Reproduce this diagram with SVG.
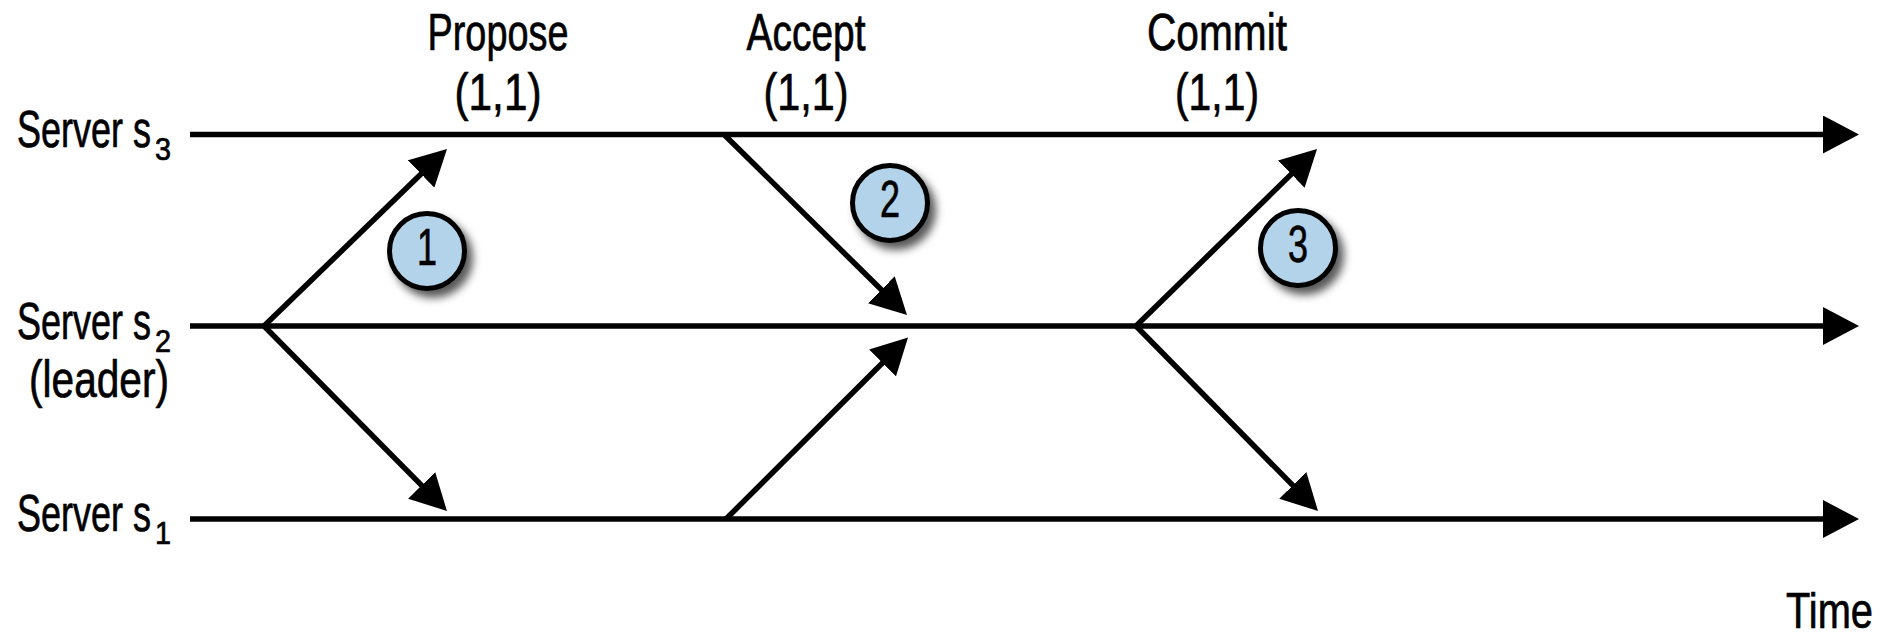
<svg xmlns="http://www.w3.org/2000/svg" width="1883" height="640" viewBox="0 0 1883 640">
  <style>
    text { font-family: "Liberation Sans", Arial, sans-serif; font-size: 52px; fill: #000; stroke: #000; stroke-width: 0.7; }
    .sub { font-size: 31px; }
    .mid { text-anchor: middle; }
    .end { text-anchor: end; }
    .timeline, .msg { stroke: #000; stroke-width: 5.5; fill: none; marker-end: url(#head); }
    .badge circle { fill: #b3d3ea; stroke: #000; stroke-width: 5; filter: url(#shadow); }
  </style>
  <defs>
    <marker id="head" viewBox="0 0 36 38" refX="20" refY="19" markerWidth="36" markerHeight="38" markerUnits="userSpaceOnUse" orient="auto">
      <path d="M0,0 L36,19 L0,38 Z" fill="#000"/>
    </marker>
    <filter id="shadow" x="-40%" y="-40%" width="190%" height="190%">
      <feDropShadow dx="6" dy="7" stdDeviation="4.5" flood-color="#000" flood-opacity="0.65"/>
    </filter>
  </defs>

  <rect width="1883" height="640" fill="#fff"/>

  <!-- server timelines and messages -->
  <g id="connectors">
    <line class="timeline" x1="190" y1="134.5" x2="1843" y2="134.5"/>
    <line class="timeline" x1="190" y1="326" x2="1843" y2="326"/>
    <line class="timeline" x1="190" y1="519" x2="1843" y2="519"/>

    <!-- phase 1: leader proposes -->
    <line class="msg" x1="264" y1="326" x2="435.5" y2="160.1"/>
    <line class="msg" x1="264" y1="326" x2="435.7" y2="499.6"/>
    <!-- phase 2: followers accept -->
    <line class="msg" x1="724" y1="134.5" x2="895.6" y2="303.8"/>
    <line class="msg" x1="726" y1="519" x2="896.7" y2="348.8"/>
    <!-- phase 3: leader commits -->
    <line class="msg" x1="1136" y1="326" x2="1305.6" y2="160.2"/>
    <line class="msg" x1="1136" y1="326" x2="1306.8" y2="499.6"/>
  </g>

  <!-- server labels -->
  <g id="server-s3">
    <text class="end" y="147"><tspan x="151" textLength="134" lengthAdjust="spacingAndGlyphs">Server s</tspan><tspan class="sub" x="171" dy="13" textLength="16" lengthAdjust="spacingAndGlyphs">3</tspan></text>
  </g>
  <g id="server-s2">
    <text class="end" y="339"><tspan x="151" textLength="134" lengthAdjust="spacingAndGlyphs">Server s</tspan><tspan class="sub" x="171" dy="13" textLength="16" lengthAdjust="spacingAndGlyphs">2</tspan></text>
    <text class="end" x="169" y="397" textLength="140" lengthAdjust="spacingAndGlyphs">(leader)</text>
  </g>
  <g id="server-s1">
    <text class="end" y="531"><tspan x="151" textLength="134" lengthAdjust="spacingAndGlyphs">Server s</tspan><tspan class="sub" x="171" dy="13" textLength="16" lengthAdjust="spacingAndGlyphs">1</tspan></text>
  </g>

  <!-- phase labels -->
  <g id="propose">
    <text class="mid" x="498" y="50" textLength="141" lengthAdjust="spacingAndGlyphs">Propose</text>
    <text class="mid" x="498" y="110" textLength="87" lengthAdjust="spacingAndGlyphs">(1,1)</text>
  </g>
  <g id="accept">
    <text class="mid" x="806" y="50" textLength="119" lengthAdjust="spacingAndGlyphs">Accept</text>
    <text class="mid" x="806" y="110" textLength="85" lengthAdjust="spacingAndGlyphs">(1,1)</text>
  </g>
  <g id="commit">
    <text class="mid" x="1217" y="50" textLength="140" lengthAdjust="spacingAndGlyphs">Commit</text>
    <text class="mid" x="1217" y="110" textLength="84" lengthAdjust="spacingAndGlyphs">(1,1)</text>
  </g>

  <!-- step badges -->
  <g id="step-1" class="badge">
    <circle cx="427" cy="251" r="37.5"/>
    <text class="mid" x="427" y="265" textLength="20" lengthAdjust="spacingAndGlyphs">1</text>
  </g>
  <g id="step-2" class="badge">
    <circle cx="890" cy="203" r="37.5"/>
    <text class="mid" x="890" y="217" textLength="20" lengthAdjust="spacingAndGlyphs">2</text>
  </g>
  <g id="step-3" class="badge">
    <circle cx="1298" cy="248" r="37.5"/>
    <text class="mid" x="1298" y="262" textLength="20" lengthAdjust="spacingAndGlyphs">3</text>
  </g>

  <!-- time axis caption -->
  <g id="time">
    <text class="end" x="1873" y="628" style="font-size:50px" textLength="87" lengthAdjust="spacingAndGlyphs">Time</text>
  </g>
</svg>
